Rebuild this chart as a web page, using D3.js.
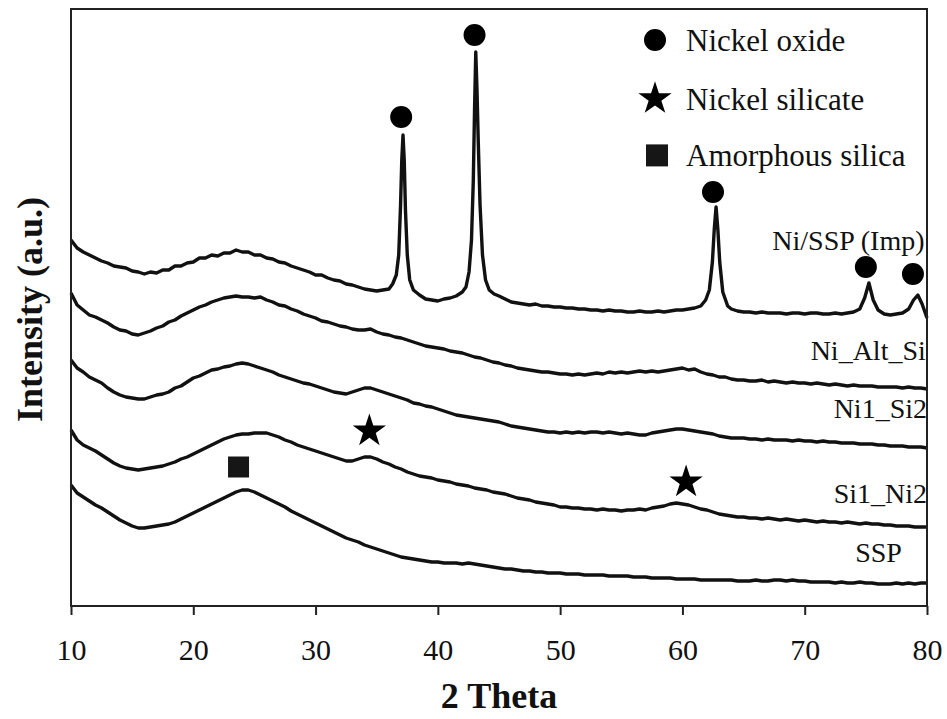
<!DOCTYPE html>
<html>
<head>
<meta charset="utf-8">
<script src="https://cdn.jsdelivr.net/npm/d3@7"></script>
<style>
  body { margin: 0; background: #fff; }
  svg text { font-family: "Liberation Serif", "DejaVu Serif", serif; fill: #111; }
  .axis-title { font-weight: bold; font-size: 36px; }
  .series-label { font-size: 28px; }
  .legend-label { font-size: 31px; }
  .trace { fill: none; stroke: #111; stroke-width: 3.4; stroke-linejoin: round; }
  .frame { fill: none; stroke: #222; stroke-width: 2; }
</style>
</head>
<body>
<svg id="chart"></svg>
<script>
// ---- data (2 Theta in degrees, intensity in a.u. incl. stacking offset) ----

// sampling grid used for the four smooth patterns
const angles = d3.range(10, 80.001, 0.5);

const niAltSi = [
  707,695,690,685,683,680,677,673,670,669,
  666,665,667,669,672,674,678,680,684,687,
  690,693,695,698,700,702,703,704,703,703,
  702,703,700,698,695,694,691,689,686,684,
  682,679,678,676,674,673,671,670,670,671,
  668,666,665,663,662,660,658,656,654,653,
  652,651,649,648,647,645,643,642,640,638,
  637,635,634,632,631,630,629,628,628,627,
  626,626,625,626,625,626,627,626,628,627,
  628,627,628,629,628,629,628,629,630,631,
  632,630,631,628,626,625,623,623,621,620,
  620,619,619,620,618,619,618,617,618,617,
  617,616,617,616,615,616,615,614,615,614,
  614,614,613,613,613,613,612,613,612,612,
  611
];

const ni1Si2 = [
  640,632,628,623,620,617,612,608,605,603,
  602,601,601,603,605,606,608,612,614,618,
  622,624,627,630,631,633,634,636,637,636,
  634,632,630,628,625,623,621,619,617,616,
  614,612,610,608,607,606,608,610,612,612,
  610,608,606,604,602,600,597,596,594,593,
  591,589,587,585,584,583,582,581,580,579,
  578,576,574,573,572,571,570,569,568,568,
  567,568,567,568,567,568,568,567,568,567,
  566,567,566,565,565,567,568,569,570,571,
  571,570,569,568,567,566,564,563,562,562,
  562,561,561,560,561,560,560,560,559,560,
  559,559,558,559,558,558,557,557,557,556,
  556,556,555,555,554,554,554,553,553,553,
  552
];

const si1Ni2 = [
  570,560,555,552,549,545,541,537,534,532,
  531,530,531,532,533,534,536,538,541,543,
  546,549,552,555,558,561,563,565,566,566,
  567,567,567,565,563,560,558,555,553,551,
  549,547,545,543,541,539,539,541,543,543,
  541,538,536,533,531,528,526,524,523,522,
  520,519,518,516,515,514,512,511,510,508,
  507,506,504,502,501,500,498,497,496,495,
  493,493,492,492,491,491,490,491,490,490,
  489,490,490,491,490,492,493,494,496,497,
  496,495,493,491,490,488,486,485,484,483,
  483,482,482,481,482,481,480,481,480,479,
  480,479,478,479,478,478,477,478,477,476,
  477,476,476,475,475,474,474,474,473,473,
  473
];

const ssp = [
  515,507,503,499,495,492,488,484,480,477,
  474,472,472,473,474,475,476,478,481,484,
  487,490,493,496,499,502,505,508,510,510,
  508,505,502,499,496,493,489,486,483,480,
  477,474,471,468,465,462,460,458,455,453,
  451,449,447,445,443,442,441,440,439,438,
  438,437,437,437,436,437,436,435,434,433,
  432,431,431,430,429,429,428,428,427,427,
  427,426,426,426,425,425,425,425,424,424,
  424,424,423,423,423,422,422,422,422,421,
  421,421,421,420,420,420,420,420,420,419,
  419,419,420,419,419,420,420,419,420,419,
  419,418,418,418,418,417,418,417,417,418,
  417,417,416,416,416,417,416,417,416,417,
  417
];

// impregnated sample has sharp NiO reflections, so it is read with finer steps
const niSspImp = [
  [10,760],[10.5,752],[11,748],[11.5,745],[12,742],[12.5,739],[13,737],[13.5,734],
  [14,733],[14.5,732],[15,729],[15.5,728],[16,726],[16.5,728],[17,727],[17.5,730],
  [18,730],[18.5,734],[19,734],[19.5,737],[20,738],[20.5,742],[21,742],[21.5,745],
  [22,744],[22.5,747],[23,747],[23.5,750],[24,748],[24.5,748],[25,745],[25.5,745],
  [26,742],[26.5,741],[27,738],[27.5,737],[28,734],[28.5,732],[29,730],[29.5,728],
  [30,725],[30.5,725],[31,722],[31.5,720],[32,719],[32.5,716],[33,715],[33.5,713],
  [34,711],[34.5,710],[35,709],[35.5,710],[36,711],[36.3,716],[36.6,725],[36.8,745],
  [36.95,795],[37.05,840],[37.15,865],[37.25,840],[37.35,790],[37.5,745],[37.7,720],
  [38,710],[38.5,705],[39,701],[39.5,700],[40,699],[40.5,701],[41,702],[41.5,704],
  [42,708],[42.3,713],[42.55,728],[42.75,760],[42.9,820],[43.0,890],[43.1,948],
  [43.2,910],[43.3,860],[43.45,795],[43.65,745],[43.9,720],[44.2,710],[44.6,706],
  [45,704],[45.5,701],[46,698],[46.5,697],[47,696],[47.5,695],[48,696],[48.5,694],
  [49,694],[49.5,693],[50,693],[50.5,692],[51,692],[51.5,691],[52,691],[52.5,690],
  [53,690],[53.5,689],[54,690],[54.5,689],[55,689],[55.5,688],[56,688],[56.5,689],
  [57,688],[57.5,688],[58,689],[58.5,688],[59,689],[59.5,690],[60,690],[60.5,691],
  [61,692],[61.5,694],[61.9,700],[62.2,710],[62.45,738],[62.6,770],[62.75,793],
  [62.9,770],[63.05,738],[63.3,708],[63.7,694],[64,691],[64.5,689],[65,688],
  [65.5,688],[66,687],[66.5,688],[67,687],[67.5,687],[68,687],[68.5,686],[69,687],
  [69.5,687],[70,686],[70.5,687],[71,687],[71.5,686],[72,686],[72.5,687],[73,686],
  [73.5,687],[74,688],[74.5,691],[74.9,702],[75.25,717],[75.6,700],[76,690],
  [76.5,686],[77,685],[77.5,686],[78,687],[78.5,691],[78.9,700],[79.25,705],
  [79.6,696],[80,682]
];

const seriesNames = ['Ni/SSP (Imp)', 'Ni_Alt_Si', 'Ni1_Si2', 'Si1_Ni2', 'SSP'];
// where each sample name sits: [2 Theta of text end, intensity of baseline]
const labelAt = [[79.8, 750], [79.9, 640], [80, 582], [80, 497], [77.95, 438]];

const xTicks = [10, 20, 30, 40, 50, 60, 70, 80];

// phase markers [2 Theta, intensity]
const oxideMarks = [[37.0, 883], [43.0, 965], [62.5, 808], [75.0, 733], [78.85, 726]];
const silicateMarks = [[34.4, 569], [60.3, 518]];
const silicaMarks = [[23.7, 533]];

const legendNames = ['Nickel oxide', 'Nickel silicate', 'Amorphous silica'];

const serifFont = '"Liberation Serif", "DejaVu Serif", serif';

// ---- chart ----
class XrdChart {
  constructor(_config) {
    this.config = {
      parentElement: _config.parentElement,
      containerWidth: _config.containerWidth || 947,
      containerHeight: _config.containerHeight || 719,
      margin: _config.margin || {top: 9, right: 20, bottom: 113, left: 71}
    };
    this.initVis();
  }

  initVis() {
    let vis = this;
    vis.width = vis.config.containerWidth - vis.config.margin.left - vis.config.margin.right;
    vis.height = vis.config.containerHeight - vis.config.margin.top - vis.config.margin.bottom;

    vis.xScale = d3.scaleLinear().domain([10, 80]).range([0, vis.width]);
    vis.yScale = d3.scaleLinear().domain([394, 991]).range([vis.height, 0]);

    vis.svg = d3.select(vis.config.parentElement)
      .attr('width', vis.config.containerWidth)
      .attr('height', vis.config.containerHeight)
      .attr('font-family', serifFont);

    vis.chart = vis.svg.append('g')
      .attr('transform', `translate(${vis.config.margin.left},${vis.config.margin.top})`);

    vis.xAxis = d3.axisBottom(vis.xScale)
      .tickValues(xTicks)
      .tickFormat(d3.format('d'))
      .tickSize(9)
      .tickSizeOuter(0)
      .tickPadding(24);

    vis.xAxisG = vis.chart.append('g')
      .attr('class', 'axis x-axis')
      .attr('transform', `translate(0,${vis.height})`);

    // axis titles
    vis.chart.append('text')
      .attr('class', 'axis-title')
      .attr('x', vis.width / 2)
      .attr('y', vis.height + 102)
      .attr('text-anchor', 'middle')
      .text('2 Theta');

    vis.svg.append('text')
      .attr('class', 'axis-title')
      .attr('transform', `translate(42,${vis.config.margin.top + vis.height / 2 + 2}) rotate(-90)`)
      .attr('text-anchor', 'middle')
      .text('Intensity (a.u.)');
  }

  updateVis() {
    let vis = this;
    const onGrid = vals => vals.map((v, i) => [angles[i], v]);
    vis.traces = [niSspImp, onGrid(niAltSi), onGrid(ni1Si2), onGrid(si1Ni2), onGrid(ssp)];
    vis.line = d3.line()
      .x(d => vis.xScale(d[0]))
      .y(d => vis.yScale(d[1]));
    vis.renderVis();
  }

  renderVis() {
    let vis = this;
    const x = vis.xScale, y = vis.yScale;

    vis.chart.selectAll('.trace')
      .data(vis.traces)
      .join('path')
      .attr('class', 'trace')
      .attr('d', vis.line);

    vis.chart.selectAll('.series-label')
      .data(seriesNames)
      .join('text')
      .attr('class', 'series-label')
      .attr('x', (d, i) => x(labelAt[i][0]))
      .attr('y', (d, i) => y(labelAt[i][1]))
      .attr('text-anchor', 'end')
      .text(d => d);

    const circle = d3.symbol(d3.symbolCircle, Math.PI * 11 * 11);
    const star = d3.symbol(d3.symbolStar, 17.5 * 17.5 / 0.8908130915292852);
    const square = d3.symbol(d3.symbolSquare, 21 * 21);

    const markGroups = [[oxideMarks, circle], [silicateMarks, star], [silicaMarks, square]];
    markGroups.forEach(([marks, sym], k) => {
      vis.chart.selectAll(`.mark-${k}`)
        .data(marks)
        .join('path')
        .attr('class', `mark-${k}`)
        .attr('transform', d => `translate(${x(d[0])},${y(d[1])})`)
        .attr('d', sym)
        .attr('fill', k === 2 ? '#161616' : '#000');
    });

    // legend
    const legend = vis.svg.append('g').attr('transform', 'translate(655,40)');
    const legendSyms = [circle, star, square];
    legendNames.forEach((name, i) => {
      const row = legend.append('g').attr('transform', `translate(0,${i * 57.7 + (i === 1 ? 1 : 0)})`);
      row.append('path')
        .attr('d', i === 2 ? d3.symbol(d3.symbolSquare, 22 * 22)() : legendSyms[i]())
        .attr('transform', i === 2 ? 'translate(2,0)' : null)
        .attr('fill', i === 2 ? '#161616' : '#000');
      row.append('text')
        .attr('class', 'legend-label')
        .attr('x', 31)
        .attr('y', 11)
        .text(name);
    });

    // axis and frame
    vis.xAxisG.call(vis.xAxis)
      .attr('font-family', serifFont)
      .attr('font-size', 30)
      .call(g => g.select('.domain').remove())
      .call(g => g.selectAll('.tick line').attr('stroke', '#222').attr('stroke-width', 2))
      .call(g => g.selectAll('.tick text').attr('fill', '#111'));

    vis.chart.append('rect')
      .attr('class', 'frame')
      .attr('width', vis.width)
      .attr('height', vis.height);
  }
}

const xrd = new XrdChart({parentElement: '#chart'});
xrd.updateVis();
</script>
</body>
</html>
